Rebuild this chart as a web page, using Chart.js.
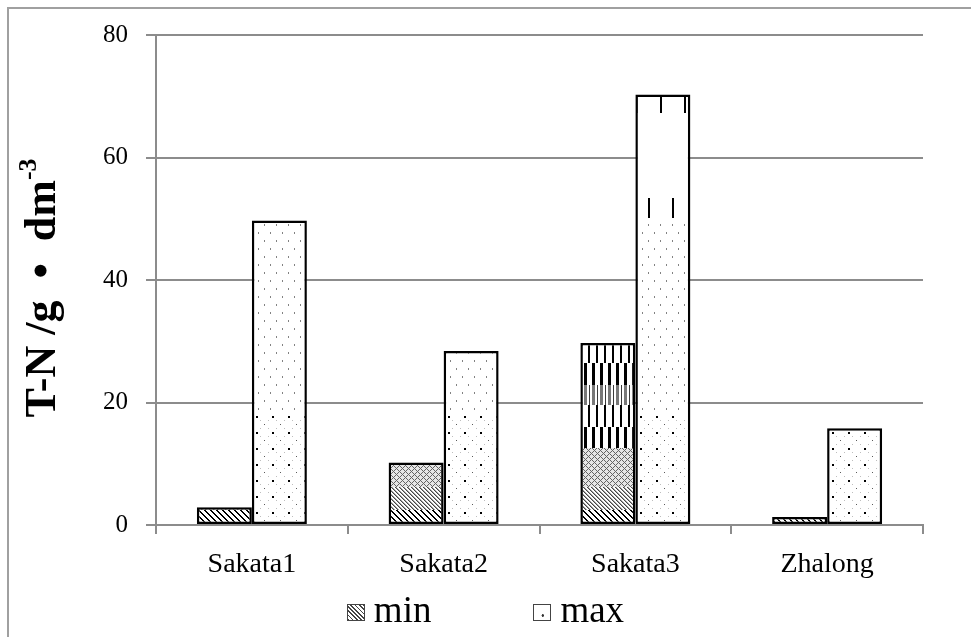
<!DOCTYPE html>
<html><head><meta charset="utf-8">
<script src="https://cdn.jsdelivr.net/npm/chart.js@4/dist/chart.umd.min.js"></script>
<style>
html,body{margin:0;padding:0;background:#fff;}
#wrap{position:relative;width:971px;height:637px;overflow:hidden;background:#fff;}
#frame{position:absolute;left:7px;top:7px;width:1000px;height:700px;border-left:2px solid #a0a0a0;border-top:2px solid #a0a0a0;}
#c{position:absolute;left:0;top:0;}
#legend{position:absolute;left:0;top:590px;width:971px;display:flex;justify-content:center;align-items:center;font-family:"Liberation Serif",serif;font-size:37px;color:#000;line-height:40px;}
.item{display:flex;align-items:center;}
.box{width:16px;height:15px;border:1px solid #444;margin-right:9px;margin-top:4px;box-sizing:content-box;}
#legend .gap{width:102px;}
</style></head>
<body><div id="wrap"><div id="frame"></div><canvas id="c" width="971" height="637"></canvas><div id="legend"></div></div>
<script>
const categories = ['Sakata1', 'Sakata2', 'Sakata3', 'Zhalong'];
const minValues = [2.9, 10.2, 29.7, 1.3];
const maxValues = [49.7, 28.4, 70.3, 15.8];
const seriesNames = ['min', 'max'];
const yTicks = [0, 20, 40, 60, 80];
const yTitleMain = 'T-N /g  \u2022  dm';
const yTitleSup = '-3';

const canvas = document.getElementById('c');
const mainCtx = canvas.getContext('2d');

function makePattern(painter) {
  const W = 48, H = 637;
  const pc = document.createElement('canvas');
  pc.width = W; pc.height = H;
  const pctx = pc.getContext('2d');
  const img = pctx.createImageData(W, H);
  for (let y = 0; y < H; y++) {
    for (let x = 0; x < W; x++) {
      const v = painter(x, y);
      const i = (y * W + x) * 4;
      img.data[i] = v; img.data[i + 1] = v; img.data[i + 2] = v; img.data[i + 3] = 255;
    }
  }
  pctx.putImageData(img, 0, 0);
  return mainCtx.createPattern(pc, 'repeat');
}
const md = (a, n) => ((a % n) + n) % n;

// texture for the "min" series (Excel-like pattern bands)
const minPattern = makePattern((x, y) => {
  if (y >= 510) return md(x - y, 6) < 2 ? 0 : 255;
  if (y >= 487) return md(x - y, 4) === 0 ? 70 : (md(x - y, 4) === 1 ? 160 : 255);
  if (y >= 448) return (md(x - y, 6) === 0 || md(x + y, 6) === 0) ? 100 : 230;
  if (y >= 427) return md(x, 8) < 3 ? 0 : 255;
  if (y >= 405) return md(x + 4, 8) < 2 ? 0 : 255;
  if (y >= 385) return md(x, 8) < 3 ? 120 : (md(x, 8) === 5 ? 60 : 255);
  if (y >= 363) return md(x, 8) < 3 ? 0 : 255;
  return md(x + 4, 8) < 2 ? 0 : 255;
});
// texture for the "max" series
const maxPattern = makePattern((x, y) => {
  if (y >= 413) {
    if (md(y, 16) < 2 && md(x, 16) < 2) return 0;
    if (md(y, 16) === 8 && md(x, 16) === 8) return 90;
    if (md(y, 8) === 4 && md(x, 8) === 4) return 190;
    return 255;
  }
  if (y >= 218) {
    const r = Math.floor(y / 8);
    if (md(y, 8) < 2 && md(x, 12) === (r % 2 ? 6 : 0)) return 130;
    return 255;
  }
  if (y >= 198) return md(x, 24) < 2 ? 0 : 255;
  if (y >= 97 && y < 113) return md(x + 12, 24) < 2 ? 0 : 255;
  return 255;
});

const titlePlugin = {
  id: 'ytitle',
  afterDraw(chart) {
    const c = chart.ctx;
    const ca = chart.chartArea;
    c.save();
    c.translate(40, (ca.top + ca.bottom) / 2 + 8);
    c.rotate(-Math.PI / 2);
    c.fillStyle = '#000';
    c.textBaseline = 'alphabetic';
    c.font = 'bold 44px "Liberation Serif"';
    const w1 = c.measureText(yTitleMain).width;
    c.font = 'bold 26px "Liberation Serif"';
    const w2 = c.measureText(yTitleSup).width;
    const start = -(w1 + w2) / 2;
    c.font = 'bold 44px "Liberation Serif"';
    c.fillText(yTitleMain, start, 15);
    c.font = 'bold 26px "Liberation Serif"';
    c.fillText(yTitleSup, start + w1, -4);
    c.restore();
  }
};

new Chart(mainCtx, {
  type: 'bar',
  data: {
    labels: categories,
    datasets: [
      { label: seriesNames[0], data: minValues, backgroundColor: minPattern, borderColor: '#000', borderWidth: 2.5, borderSkipped: false },
      { label: seriesNames[1], data: maxValues, backgroundColor: maxPattern, borderColor: '#000', borderWidth: 2.5, borderSkipped: false }
    ]
  },
  options: {
    responsive: false,
    animation: false,
    devicePixelRatio: 1,
    layout: { padding: { left: 0, right: 48, top: 35, bottom: 0 } },
    datasets: { bar: { categoryPercentage: 0.5737, barPercentage: 1 } },
    plugins: { legend: { display: false }, tooltip: { enabled: false } },
    scales: {
      x: {
        grid: { offset: true, drawOnChartArea: false, color: '#8c8c8c', lineWidth: 2, tickLength: 9 },
        border: { color: '#8c8c8c', width: 2 },
        ticks: { font: { family: 'Liberation Serif', size: 28 }, color: '#000', padding: 14 },
        afterFit(s) { s.height = 112; }
      },
      y: {
        min: 0, max: 80,
        afterBuildTicks(s) { s.ticks = yTicks.map(v => ({ value: v })); },
        grid: { color: '#8c8c8c', lineWidth: 2, tickLength: 10 },
        border: { color: '#8c8c8c', width: 2 },
        ticks: { font: { family: 'Liberation Serif', size: 25 }, color: '#000', padding: 18 },
        afterFit(s) { s.width = 156; }
      }
    }
  },
  plugins: [titlePlugin]
});

// HTML legend
const legend = document.getElementById('legend');
const boxStyles = [
  'background:repeating-linear-gradient(45deg,#444 0 1.2px,#fff 1.2px 3px);',
  'background:#fff radial-gradient(circle at 55% 70%,#333 0 1px,transparent 1.5px);'
];
seriesNames.forEach((name, i) => {
  if (i > 0) { const g = document.createElement('div'); g.className = 'gap'; legend.appendChild(g); }
  const item = document.createElement('div'); item.className = 'item';
  const box = document.createElement('div'); box.className = 'box'; box.style.cssText = boxStyles[i];
  const t = document.createElement('span'); t.textContent = name;
  item.appendChild(box); item.appendChild(t); legend.appendChild(item);
});
</script>
</body></html>
